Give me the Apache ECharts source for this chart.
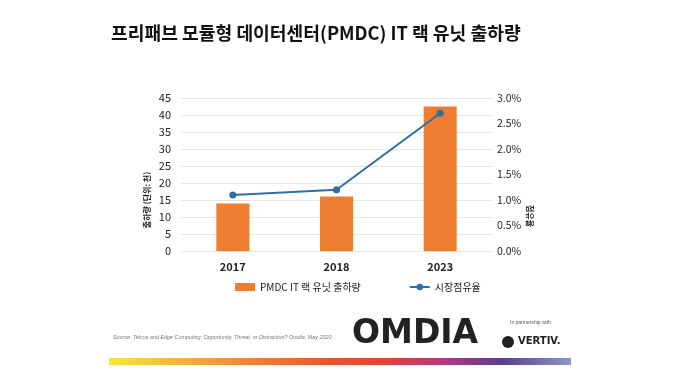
<!DOCTYPE html>
<html><head><meta charset="utf-8">
<script src="https://cdn.jsdelivr.net/npm/echarts@6/dist/echarts.min.js"></script>
<style>html,body{margin:0;padding:0;background:#fff}#c{width:680px;height:383px}</style>
</head><body><div id="c"></div>
<script>
const categories = ['2017', '2018', '2023'];
const shipments = [14, 16, 42.5];
const shareValues = [1.1, 1.2, 2.7];
const leftTicks = [0, 5, 10, 15, 20, 25, 30, 35, 40, 45];
const rightTicks = ['0.0%', '0.5%', '1.0%', '1.5%', '2.0%', '2.5%', '3.0%'];

const font = '"Noto Sans CJK KR", "Noto Sans", sans-serif';
const chart = echarts.init(document.getElementById('c'));
chart.setOption({
  backgroundColor: '#fff',
  animation: false,
  title: {
    text: '프리패브 모듈형 데이터센터(PMDC) IT 랙 유닛 출하량',
    left: 106, top: 19,
    textStyle: { fontFamily: font, fontSize: 18.2, fontWeight: 'bold', color: '#111' }
  },
  grid: { left: 181, right: 188, top: 98, bottom: 132 },
  legend: {
    bottom: 86, left: 230, itemGap: 48, itemWidth: 20, itemHeight: 8,
    textStyle: { fontFamily: font, fontSize: 10, color: '#222' },
    data: [
      { name: 'PMDC IT 랙 유닛 출하량', icon: 'rect' },
      { name: '시장점유율' }
    ]
  },
  xAxis: {
    type: 'category', data: categories,
    axisLine: { show: false }, axisTick: { show: false },
    axisLabel: { fontFamily: font, fontSize: 11, fontWeight: 'bold', color: '#222', margin: 10 }
  },
  yAxis: [
    {
      type: 'value', min: 0, max: 45, interval: 5,
      axisLine: { show: false }, axisTick: { show: false },
      axisLabel: { fontFamily: font, fontSize: 11, color: '#222', margin: 10,
        formatter: v => leftTicks.includes(v) ? String(v) : '' },
      splitLine: { lineStyle: { color: '#e6e6e6' } }
    },
    {
      type: 'value', min: 0, max: 3, interval: 0.5,
      axisLine: { show: false }, axisTick: { show: false },
      axisLabel: { fontFamily: font, fontSize: 10.5, color: '#222', margin: 5,
        formatter: v => rightTicks[Math.round(v * 2)] },
      splitLine: { show: false }
    }
  ],
  series: [
    {
      name: 'PMDC IT 랙 유닛 출하량', type: 'bar', data: shipments, barWidth: 33,
      itemStyle: { color: '#ED7D31' }
    },
    {
      name: '시장점유율', type: 'line', yAxisIndex: 1, data: shareValues,
      symbol: 'circle', symbolSize: 7,
      lineStyle: { color: '#2E6FA6', width: 2 }, itemStyle: { color: '#2E6FA6' }
    }
  ],
  graphic: [
    { type: 'text', x: 147, y: 200, rotation: Math.PI / 2,
      style: { text: '출하량 (단위: 천)', fontFamily: font, fontSize: 8, fontWeight: 'bold', fill: '#222',
        align: 'center', verticalAlign: 'middle' } },
    { type: 'text', x: 530, y: 216, rotation: -Math.PI / 2,
      style: { text: '점유율', fontFamily: font, fontSize: 8, fontWeight: 'bold', fill: '#222',
        align: 'center', verticalAlign: 'middle' } },
    { type: 'text', left: 113, top: 335,
      style: { text: 'Source: Telcos and Edge Computing: Opportunity, Threat, or Distraction? Omdia, May 2020',
        fontFamily: 'Liberation Sans, sans-serif', fontSize: 5.4, fontStyle: 'italic', fill: '#777' } },
    { type: 'text', left: 352, top: 318,
      style: { text: 'OMDIA', fontFamily: 'DejaVu Sans, sans-serif', fontSize: 33, fontWeight: 'bold', fill: '#222' } },
    { type: 'text', left: 510, top: 320,
      style: { text: 'In partnership with', fontFamily: 'Liberation Sans, sans-serif', fontSize: 5, fill: '#555' } },
    { type: 'circle', shape: { cx: 508, cy: 342, r: 6 }, style: { fill: '#222' } },
    { type: 'text', left: 518, top: 336,
      style: { text: 'VERTIV.', fontFamily: 'DejaVu Sans, sans-serif', fontSize: 10, fontWeight: 'bold', fill: '#222' } },
    { type: 'rect', shape: { x: 109, y: 358, width: 462, height: 7 },
      style: { fill: new echarts.graphic.LinearGradient(0, 0, 1, 0, [
        { offset: 0, color: '#F5E83A' },
        { offset: 0.2, color: '#F2A23A' },
        { offset: 0.45, color: '#EC5A32' },
        { offset: 0.6, color: '#E3403A' },
        { offset: 0.72, color: '#B83A7E' },
        { offset: 0.85, color: '#5A3E8E' },
        { offset: 1, color: '#8C98C4' }
      ]) } }
  ]
});
</script></body></html>
